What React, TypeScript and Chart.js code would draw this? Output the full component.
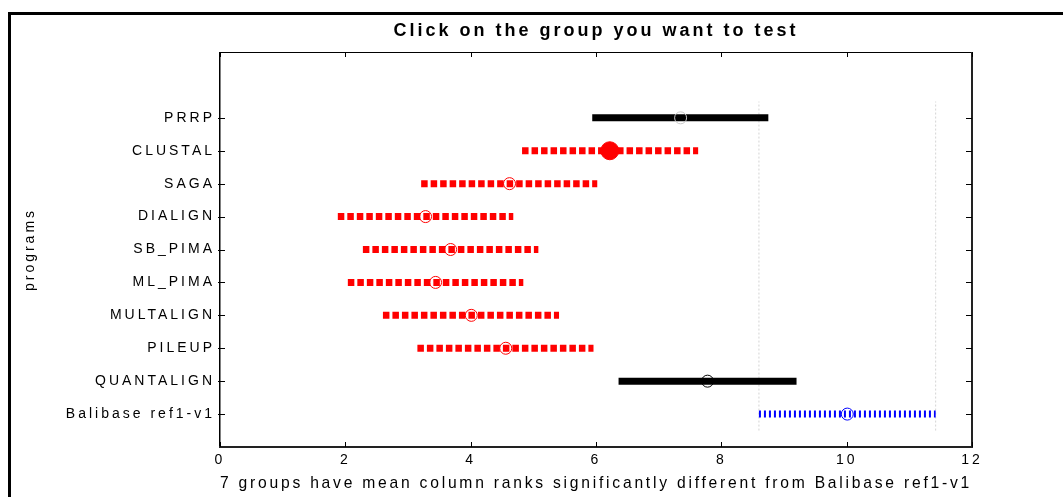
import React, { useEffect, useRef } from "react";
import { Chart, registerables } from "chart.js";

Chart.register(...registerables);

// ---------- data (bottom to top) ----------
const groups = [
  "Balibase ref1-v1",
  "QUANTALIGN",
  "PILEUP",
  "MULTALIGN",
  "ML_PIMA",
  "SB_PIMA",
  "DIALIGN",
  "SAGA",
  "CLUSTAL",
  "PRRP",
];
const positions = [1, 2, 3, 4, 5, 6, 7, 8, 9, 10];
const lowerBounds = [8.6, 6.36, 3.15, 2.6, 2.04, 2.28, 1.88, 3.21, 4.82, 5.94];
const upperBounds = [11.42, 9.2, 5.96, 5.41, 4.84, 5.08, 4.68, 6.02, 7.63, 8.75];
const means = [10.01, 7.78, 4.56, 4.01, 3.44, 3.68, 3.28, 4.62, 6.22, 7.35];
// reference = tested group, different = significantly different, same = not different, selected = clicked
const status = [
  "reference",
  "same",
  "different",
  "different",
  "different",
  "different",
  "different",
  "different",
  "selected",
  "same",
];
const xTicks = [0, 2, 4, 6, 8, 10, 12];
const chartTitle = "Click on the group you want to test";
const xTitle = "7 groups have mean column ranks significantly different from Balibase ref1-v1";
const yTitle = "programs";

// ---------- styles ----------
const lineColor: Record<string, string> = {
  reference: "#0000ff",
  same: "#000000",
  different: "#ff0000",
  selected: "#ff0000",
};
const lineDash: Record<string, number[]> = {
  reference: [2, 3],
  same: [],
  different: [6.5, 3],
  selected: [6.5, 3],
};
const markerColorOverride: Record<string, string> = { PRRP: "#c8c8c8" };
const FONT = "'Liberation Sans', Arial, Helvetica, sans-serif";

const spacingPlugin = {
  id: "letterSpacingPlugin",
  beforeLayout(chart: any) {
    chart.ctx.letterSpacing = "3px";
  },
  beforeDraw(chart: any) {
    chart.ctx.letterSpacing = "3px";
  },
};

const boxPlugin = {
  id: "matlabBox",
  afterDraw(chart: any) {
    const ctx = chart.ctx;
    const { left, right, top, bottom } = chart.chartArea;
    const L = Math.round(left);
    const R = Math.round(right);
    const T = Math.round(top);
    const B = Math.round(bottom);
    ctx.save();
    ctx.fillStyle = "#000";
    ctx.fillRect(L, T, R - L, 1);
    ctx.fillRect(L - 1, T, 1.5, B - T);
    ctx.fillStyle = "#222";
    ctx.fillRect(R - 1, T, 2, B - T + 1);
    ctx.fillRect(L - 1, B - 1, R - L + 2, 2);
    const xs = chart.scales.x;
    const ys = chart.scales.y;
    ctx.fillStyle = "#000";
    xTicks.forEach((v) => {
      const px = Math.round(xs.getPixelForValue(v));
      ctx.fillRect(px, B - 5, 1, 5);
      ctx.fillRect(px, T, 1, 5);
    });
    positions.forEach((v) => {
      const py = Math.round(ys.getPixelForValue(v));
      ctx.fillRect(L - 2, py, 7, 1);
      ctx.fillRect(R - 6, py, 6, 1);
    });
    ctx.restore();
  },
};

export default function App() {
  const canvasRef = useRef<HTMLCanvasElement | null>(null);

  useEffect(() => {
    const canvas = canvasRef.current;
    if (!canvas) return;

    const refIndex = status.indexOf("reference");

    const meanDataset: any = {
      label: "means",
      data: positions.map((p, i) => ({ x: means[i], y: p })),
      showLine: false,
      pointStyle: "circle",
      pointRadius: status.map((s) => (s === "selected" ? 9 : 6)),
      pointHoverRadius: status.map((s) => (s === "selected" ? 9 : 6)),
      pointBorderWidth: 1,
      pointBorderColor: groups.map((g, i) => markerColorOverride[g] || lineColor[status[i]]),
      pointBackgroundColor: status.map((s) => (s === "selected" ? lineColor[s] : "rgba(0,0,0,0)")),
    };

    const intervalDatasets: any[] = positions.map((p, i) => ({
      label: groups[i],
      data: [
        { x: lowerBounds[i], y: p },
        { x: upperBounds[i], y: p },
      ],
      showLine: true,
      borderColor: lineColor[status[i]],
      borderWidth: 7,
      borderDash: lineDash[status[i]],
      borderCapStyle: "butt",
      pointRadius: 0,
      tension: 0,
    }));

    const yLo = positions[0] - 0.5;
    const yHi = positions[positions.length - 1] + 0.5;
    const refLines: any[] = [lowerBounds[refIndex], upperBounds[refIndex]].map((xv, k) => ({
      label: "ref" + k,
      data: [
        { x: xv, y: yLo },
        { x: xv, y: yHi },
      ],
      showLine: true,
      borderColor: "#d4d4d4",
      borderWidth: 1,
      borderDash: [2, 2],
      pointRadius: 0,
    }));

    const chart = new Chart(canvas, {
      type: "scatter",
      data: { datasets: [meanDataset, ...intervalDatasets, ...refLines] },
      plugins: [spacingPlugin, boxPlugin],
      options: {
        animation: false,
        responsive: false,
        events: [],
        layout: { padding: { left: 0, right: 91, top: 0, bottom: 0 } },
        plugins: {
          legend: { display: false },
          tooltip: { enabled: false },
          title: {
            display: true,
            text: chartTitle,
            fullSize: false,
            color: "#000",
            font: { family: FONT, size: 18, weight: "bold" },
            padding: { top: 20.2, bottom: 10.2 },
          },
        },
        scales: {
          x: {
            type: "linear",
            min: 0,
            max: 12,
            afterBuildTicks: (s: any) => {
              s.ticks = xTicks.map((v) => ({ value: v }));
            },
            afterFit: (s: any) => {
              s.height = 50;
            },
            grid: { display: false, drawTicks: false },
            border: { display: false },
            ticks: {
              color: "#000",
              padding: 5,
              font: { family: FONT, size: 14 },
              autoSkip: false,
              maxRotation: 0,
            },
            title: {
              display: true,
              text: xTitle,
              color: "#000",
              font: { family: FONT, size: 17 },
              padding: { top: 0, bottom: 3.8 },
            },
          },
          y: {
            type: "linear",
            min: 0,
            max: 12,
            afterBuildTicks: (s: any) => {
              s.ticks = positions.map((v) => ({ value: v }));
            },
            afterFit: (s: any) => {
              s.width = 220;
            },
            grid: { display: false, drawTicks: false },
            border: { display: false },
            ticks: {
              color: "#000",
              padding: 5,
              autoSkip: false,
              font: { family: FONT, size: 14 },
              callback: (v: any) => {
                const idx = positions.indexOf(Number(v));
                return idx >= 0 ? groups[idx] : "";
              },
            },
            title: {
              display: true,
              text: yTitle,
              color: "#000",
              font: { family: FONT, size: 14 },
              padding: { top: 21.6, bottom: 0 },
            },
          },
        },
      } as any,
    });

    return () => {
      chart.destroy();
    };
  }, []);

  return (
    <div
      style={{
        position: "absolute",
        left: 0,
        top: 0,
        width: 1063,
        height: 497,
        overflow: "hidden",
        background: "#fff",
      }}
    >
      <div
        style={{
          position: "absolute",
          left: 8,
          top: 12,
          width: 1200,
          height: 700,
          border: "3px solid #000",
        }}
      />
      <canvas
        ref={canvasRef}
        width={1063}
        height={497}
        style={{ position: "absolute", left: 0, top: 0, width: 1063, height: 497 }}
      />
    </div>
  );
}
